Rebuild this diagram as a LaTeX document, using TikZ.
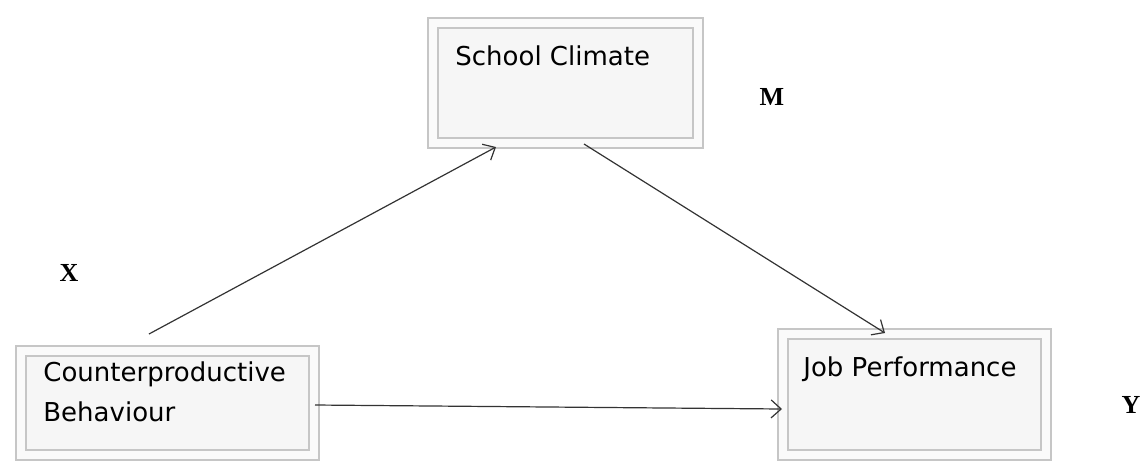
\documentclass[tikz,border=0pt]{standalone}
\usepackage{fontspec}
\setmainfont{DejaVu Sans}
\newfontfamily\labelfont{Liberation Serif}
\usetikzlibrary{calc,arrows.meta,shadows}

\begin{document}
\begin{tikzpicture}[x=0.5pt,y=-0.5pt,
        varbox/.style={draw=gray!45,line width=1pt,double=gray!4,double distance=4pt,fill=gray!7,
            drop shadow={shadow xshift=1.5pt,shadow yshift=-1.5pt,opacity=0.2}},
        boxtext/.style={inner sep=0pt,align=left,font=\fontsize{13}{20}\selectfont},
        varlabel/.style={font=\labelfont\bfseries\fontsize{13}{15}\selectfont},
        link/.style={draw=black!80,line width=0.6pt,-{Straight Barb[length=5pt,width=9pt]}}]
        \useasboundingbox (0,0) rectangle (1141,462);
        % boxes
        \node[varbox,minimum width=132.5pt,minimum height=60pt] (sc) at (565.5,83) {};
        \node[varbox,minimum width=146.5pt,minimum height=52pt] (cb) at (167.5,403) {};
        \node[varbox,minimum width=131.5pt,minimum height=60.5pt] (jp) at (914.5,394.5) {};
        \node[boxtext,anchor=north west] (sctext) at (455,45) {School Climate};
        \node[boxtext,anchor=north west] (cbtext) at (43,361) {Counterproductive\\Behaviour};
        \node[boxtext,anchor=north west] (jptext) at (803,356) {Job Performance};
        % paths
        \draw[link] ($(cb.north west)+(129,-16)$) -- ($(sc.south west)+(64,3)$);
        \draw[link] ($(sc.south west)+(152,0)$) -- ($(jp.north west)+(103,0)$);
        \draw[link] ($(cb.east)+(0,2)$) -- ($(jp.west)+(0,14.5)$);
        % labels
        \node[varlabel] (xlab) at (69,273) {X};
        \node[varlabel] (mlab) at (772,97) {M};
        \node[varlabel] (ylab) at (1131,405) {Y};
    \end{tikzpicture}
\end{document}
